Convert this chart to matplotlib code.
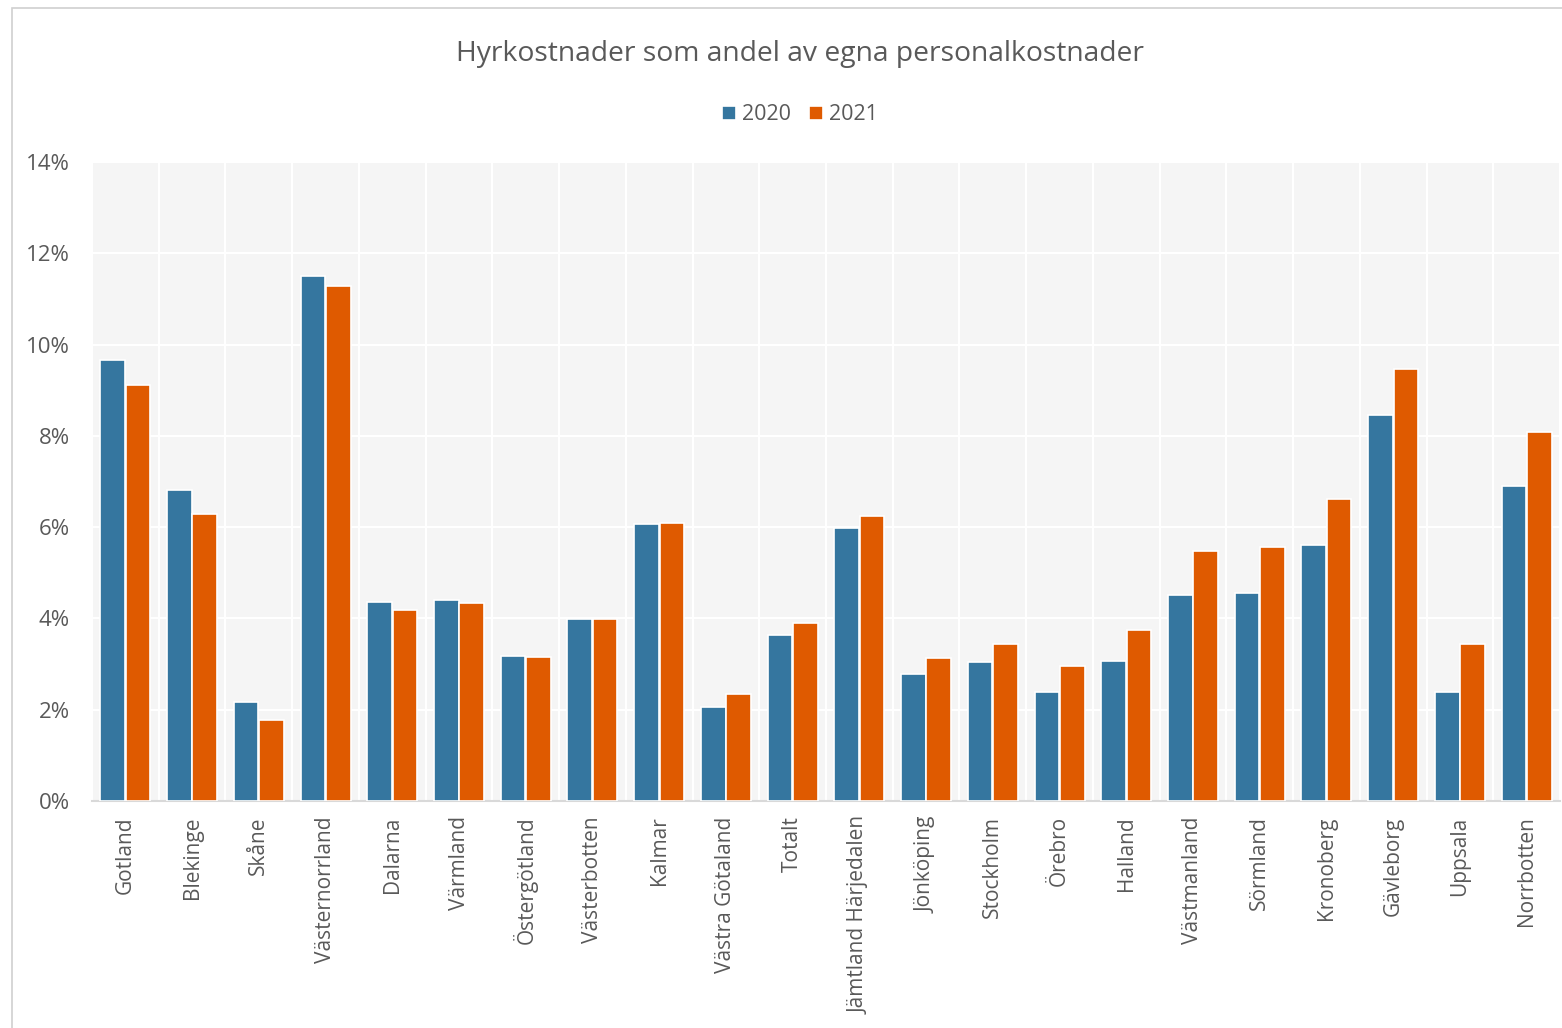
import matplotlib
matplotlib.use("Agg")
import matplotlib.pyplot as plt
import numpy as np
from matplotlib.patches import Rectangle
from matplotlib.ticker import FuncFormatter

plt.rcParams['font.family'] = ['Open Sans', 'DejaVu Sans']

regions = ["Gotland", "Blekinge", "Skåne", "Västernorrland", "Dalarna", "Värmland",
           "Östergötland", "Västerbotten", "Kalmar", "Västra Götaland", "Totalt",
           "Jämtland Härjedalen", "Jönköping", "Stockholm", "Örebro", "Halland",
           "Västmanland", "Sörmland", "Kronoberg", "Gävleborg", "Uppsala", "Norrbotten"]
v2020 = [9.66, 6.81, 2.17, 11.50, 4.36, 4.40, 3.18, 3.99, 6.07, 2.06, 3.64,
         5.98, 2.78, 3.05, 2.39, 3.07, 4.51, 4.56, 5.61, 8.46, 2.39, 6.90]
v2021 = [9.11, 6.29, 1.77, 11.28, 4.18, 4.34, 3.16, 3.99, 6.09, 2.34, 3.90,
         6.24, 3.13, 3.44, 2.96, 3.75, 5.48, 5.57, 6.62, 9.47, 3.44, 8.09]

blue = "#35769f"
orange = "#df5a00"
grey_txt = "#595959"

fig = plt.figure(figsize=(15.62, 10.28), dpi=100)
# outer chart border
fig.patches.append(Rectangle((12 / 1562, -0.01), 1.1, (1028 - 8) / 1028 + 0.01,
                             transform=fig.transFigure, fill=False,
                             edgecolor="#d0d0d0", lw=1.2))

ax = fig.add_axes([92 / 1562, (1028 - 801) / 1028, (1560 - 92) / 1562, (801 - 162) / 1028])
ax.set_facecolor("#f5f5f5")

x = np.arange(len(regions))
w = 0.37
ax.bar(x - 0.19, v2020, w, color=blue, edgecolor="white", lw=1.2, label="2020", zorder=3)
ax.bar(x + 0.19, v2021, w, color=orange, edgecolor="white", lw=1.2, label="2021", zorder=3)

ax.set_xlim(-0.5, len(regions) - 0.5)
ax.set_ylim(0, 14)
ax.set_yticks(range(0, 15, 2))
ax.yaxis.set_major_formatter(FuncFormatter(lambda v, p: f"{v:.0f}%"))
ax.set_xticks(x)
ax.set_xticklabels(regions, rotation=90)
ax.set_xticks(np.arange(-0.5, len(regions)), minor=True)

ax.grid(axis="y", color="white", lw=1.5, zorder=1)
ax.grid(axis="x", which="minor", color="white", lw=1.5, zorder=1)
ax.tick_params(axis="both", which="both", length=0, colors=grey_txt)
ax.tick_params(axis="y", pad=16, labelsize=16)
ax.tick_params(axis="x", pad=11, labelsize=15)
for s in ["top", "right", "left"]:
    ax.spines[s].set_visible(False)
ax.spines["bottom"].set_color("#d9d9d9")
ax.spines["bottom"].set_linewidth(1.5)

cx = 800 / 1562
fig.text(cx, 1 - 54 / 1028, "Hyrkostnader som andel av egna personalkostnader",
         ha="center", va="center", fontsize=20.3, color=grey_txt)
fig.legend(loc="center", bbox_to_anchor=(cx, 1 - 115 / 1028), ncol=2, frameon=False,
           fontsize=15.5, handlelength=0.65, handleheight=0.65, handletextpad=0.3,
           columnspacing=0.8, labelcolor=grey_txt)

plt.savefig("out.png", dpi=100)
